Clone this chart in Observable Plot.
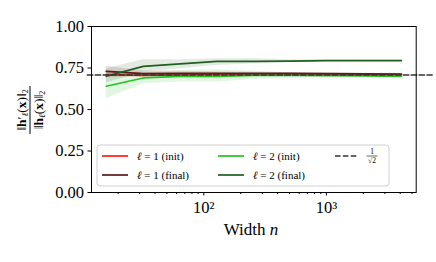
<!DOCTYPE html>
<html><head><meta charset="utf-8">
<script src="https://cdn.jsdelivr.net/npm/d3@7"></script>
<script src="https://cdn.jsdelivr.net/npm/@observablehq/plot@0.6"></script>
<style>body{margin:0;background:#fff}</style>
</head><body><div id="chart"></div>
<script>
// ---- data ----
const widths = [16, 32, 64, 128, 256, 512, 1024, 2048, 4096];

const l1InitMean  = [0.710, 0.706, 0.708, 0.710, 0.710, 0.710, 0.710, 0.710, 0.710];
const l1InitLo    = [0.690, 0.695, 0.698, 0.700, 0.703, 0.705, 0.706, 0.707, 0.707];
const l1InitHi    = [0.735, 0.722, 0.720, 0.720, 0.717, 0.715, 0.714, 0.713, 0.713];

const l1FinalMean = [0.730, 0.716, 0.718, 0.718, 0.718, 0.718, 0.716, 0.715, 0.714];
const l1FinalLo   = [0.700, 0.700, 0.705, 0.707, 0.710, 0.711, 0.711, 0.711, 0.711];
const l1FinalHi   = [0.760, 0.732, 0.730, 0.728, 0.725, 0.723, 0.721, 0.719, 0.718];

const l2InitMean  = [0.640, 0.690, 0.700, 0.700, 0.705, 0.705, 0.704, 0.703, 0.700];
const l2InitLo    = [0.565, 0.655, 0.665, 0.665, 0.680, 0.690, 0.695, 0.695, 0.695];
const l2InitHi    = [0.720, 0.725, 0.735, 0.740, 0.730, 0.720, 0.715, 0.711, 0.708];

const l2FinalMean = [0.700, 0.760, 0.775, 0.790, 0.790, 0.792, 0.795, 0.795, 0.795];
const l2FinalLo   = [0.660, 0.725, 0.745, 0.765, 0.775, 0.785, 0.790, 0.790, 0.792];
const l2FinalHi   = [0.745, 0.800, 0.800, 0.805, 0.805, 0.800, 0.800, 0.800, 0.800];

const seriesNames = ["l1init", "l1final", "l2init", "l2final"];
const seriesLabels = [["1", "init"], ["1", "final"], ["2", "init"], ["2", "final"]];
const seriesColors = ["#ff1a1a", "#5c1a1a", "#22c322", "#1f5f1f"];

const refValue = 1 / Math.sqrt(2);
const refSpan = [11.2, 7300];

const yTicks = [0, 0.25, 0.5, 0.75, 1.0];
const xMajorTicks = [100, 1000];
const xTickLabels = ["10²", "10³"];
const xMinorTicks = [20, 30, 40, 50, 60, 70, 80, 90, 200, 300, 400, 500, 600, 700, 800, 900, 2000, 3000, 4000, 5000];

// ---- build table ----
const seriesData = [
  [l1InitMean, l1InitLo, l1InitHi],
  [l1FinalMean, l1FinalLo, l1FinalHi],
  [l2InitMean, l2InitLo, l2InitHi],
  [l2FinalMean, l2FinalLo, l2FinalHi]
];
const rows = [];
seriesData.forEach(([m, lo, hi], i) => widths.forEach((w, j) =>
  rows.push({series: seriesNames[i], w, m: m[j], lo: lo[j], hi: hi[j]})));
const refLine = refSpan.map(w => ({w, v: refValue}));

const plot = Plot.plot({
  width: 436, height: 262,
  marginLeft: 91, marginRight: 20.3, marginTop: 26, marginBottom: 70,
  style: {fontFamily: "Liberation Serif", fontSize: "16.5px", color: "#000", background: "#fff"},
  x: {type: "log", domain: [10 ** 1.0836, 10 ** 3.7329]},
  y: {domain: [0, 1]},
  color: {domain: seriesNames, range: seriesColors},
  marks: [
    Plot.areaY(rows, {x: "w", y1: "lo", y2: "hi", fill: "series", z: "series", fillOpacity: 0.13}),
    Plot.line(rows, {x: "w", y: "m", stroke: "series", z: "series", strokeWidth: 1.7}),
    Plot.line(refLine, {x: "w", y: "v", stroke: "#333", strokeWidth: 1.5, strokeDasharray: "5.5,2.4", clip: false}),
    Plot.frame({stroke: "#000", strokeWidth: 1}),
    Plot.axisY({ticks: yTicks, tickFormat: d => d.toFixed(2), tickSize: 3.5, tickPadding: 4, label: null}),
    Plot.axisX({ticks: xMajorTicks, tickFormat: d => xTickLabels[xMajorTicks.indexOf(d)], tickSize: 3.5, tickPadding: 5, label: null}),
    Plot.axisX({ticks: xMinorTicks, tickFormat: () => "", tickSize: 2, label: null})
  ]
});
document.getElementById("chart").appendChild(plot);

const svg = d3.select(plot);
const serif = "Liberation Serif";

// x label
const xl = svg.append("text").attr("x", 251).attr("y", 235).attr("text-anchor", "middle")
  .attr("font-family", serif).attr("font-size", 17).attr("fill", "#000");
xl.append("tspan").text("Width ");
xl.append("tspan").attr("font-style", "italic").text("n");

// y label (rotated fraction)
const yl = svg.append("g").attr("transform", "translate(30,110) rotate(-90)")
  .attr("font-family", serif).attr("font-size", 13.5).attr("fill", "#000");
const num = yl.append("text").attr("x", 0).attr("y", -4).attr("text-anchor", "middle");
num.append("tspan").text("‖");
num.append("tspan").attr("font-weight", "bold").text("h");
num.append("tspan").text("′");
num.append("tspan").attr("font-style", "italic").attr("font-size", 9).attr("dy", 2).text("ℓ");
num.append("tspan").attr("dy", -2).text("(");
num.append("tspan").attr("font-weight", "bold").text("x");
num.append("tspan").text(")‖");
num.append("tspan").attr("font-size", 8).attr("dy", 2).text("2");
yl.append("line").attr("x1", -24).attr("x2", 24).attr("y1", 0).attr("y2", 0).attr("stroke", "#000").attr("stroke-width", 1);
const den = yl.append("text").attr("x", 0).attr("y", 12.5).attr("text-anchor", "middle");
den.append("tspan").text("‖");
den.append("tspan").attr("font-weight", "bold").text("h");
den.append("tspan").attr("font-style", "italic").attr("font-size", 9).attr("dy", 2).text("ℓ");
den.append("tspan").attr("dy", -2).text("(");
den.append("tspan").attr("font-weight", "bold").text("x");
den.append("tspan").text(")‖");
den.append("tspan").attr("font-size", 8).attr("dy", 2).text("2");

// legend
const lg = svg.append("g").attr("font-family", serif).attr("font-size", 11).attr("fill", "#000").attr("text-anchor", "start");
lg.append("rect").attr("x", 97).attr("y", 145).attr("width", 292).attr("height", 41).attr("rx", 3)
  .attr("fill", "#fff").attr("fill-opacity", 0.85).attr("stroke", "#d0d0d0").attr("stroke-width", 1);
const colX = [[102, 137], [102, 137], [218, 253], [218, 253]];
const rowY = [156, 175, 156, 175];
seriesNames.forEach((s, i) => {
  const [lx, tx] = colX[i], y = rowY[i];
  lg.append("line").attr("x1", lx).attr("x2", lx + 26).attr("y1", y).attr("y2", y)
    .attr("stroke", seriesColors[i]).attr("stroke-width", 1.7);
  const t = lg.append("text").attr("x", tx).attr("y", y + 3.8).attr("text-anchor", "start");
  t.append("tspan").attr("font-style", "italic").text("ℓ");
  t.append("tspan").text(" = " + seriesLabels[i][0] + " (" + seriesLabels[i][1] + ")");
});
lg.append("line").attr("x1", 335).attr("x2", 358).attr("y1", 156).attr("y2", 156)
  .attr("stroke", "#333").attr("stroke-width", 1.5).attr("stroke-dasharray", "5.5,2.4");
lg.append("text").attr("x", 372).attr("y", 154).attr("text-anchor", "middle").attr("font-size", 7.5).attr("fill", "#000").text("1");
lg.append("line").attr("x1", 366.5).attr("x2", 377.5).attr("y1", 156).attr("y2", 156).attr("stroke", "#000").attr("stroke-width", 0.6);
lg.append("text").attr("x", 372).attr("y", 163).attr("text-anchor", "middle").attr("font-size", 7.5).attr("fill", "#000").text("√2");
</script>
</body></html>
